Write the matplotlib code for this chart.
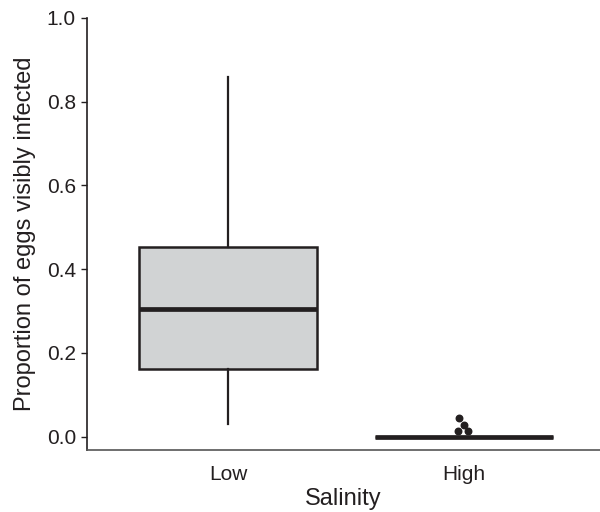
import matplotlib
matplotlib.use("Agg")
import matplotlib.pyplot as plt

plt.rcParams['font.family'] = ['Liberation Sans', 'DejaVu Sans']

groups = ["Low", "High"]
whislo = [0.030, 0.0]
q1 = [0.161, 0.0]
med = [0.304, 0.0]
q3 = [0.454, 0.0]
whishi = [0.860, 0.0]
high_outliers = [0.045, 0.028, 0.0136, 0.0136]
outlier_nudge = [-0.022, 0.0, -0.024, 0.020]  # small horizontal offsets so dots don't overlap

dark = "#231f20"

stats = []
for i, g in enumerate(groups):
    stats.append(dict(label=g, whislo=whislo[i], q1=q1[i], med=med[i],
                      q3=q3[i], whishi=whishi[i], fliers=[]))

fig = plt.figure(figsize=(6, 5.12), dpi=100)
ax = fig.add_axes([0.145, 0.121, 0.855, 0.844])

ax.bxp(stats, positions=[1, 2], widths=0.754, patch_artist=True, showcaps=False,
       boxprops=dict(facecolor="#d1d3d4", edgecolor=dark, linewidth=1.8),
       whiskerprops=dict(color=dark, linewidth=1.6),
       medianprops=dict(color=dark, linewidth=3.4, solid_capstyle="butt"))

xs = [2 + d for d in outlier_nudge]
ax.scatter(xs, high_outliers, s=22, color=dark, zorder=3)

ax.set_xlim(0.402, 2.578)
ax.set_ylim(-0.032, 1.0)
ax.set_yticks([0.0, 0.2, 0.4, 0.6, 0.8, 1.0])
ax.set_yticklabels(["0.0", "0.2", "0.4", "0.6", "0.8", "1.0"])
ax.set_xticks([1, 2])
ax.set_xticklabels(groups)

for s in ["top", "right"]:
    ax.spines[s].set_visible(False)
ax.spines["left"].set_color(dark)
ax.spines["bottom"].set_color("#555555")
ax.spines["left"].set_linewidth(1.2)
ax.spines["bottom"].set_linewidth(1.2)

ax.tick_params(axis="y", length=4, width=1, color=dark, labelsize=15, labelcolor=dark, pad=4)
ax.tick_params(axis="x", length=0, labelsize=15, labelcolor=dark, pad=11)

ax.set_xlabel("Salinity", fontsize=17, color=dark, labelpad=3)
ax.set_ylabel("Proportion of eggs visibly infected", fontsize=17, color=dark, labelpad=8)

fig.savefig("out.png", dpi=100)
